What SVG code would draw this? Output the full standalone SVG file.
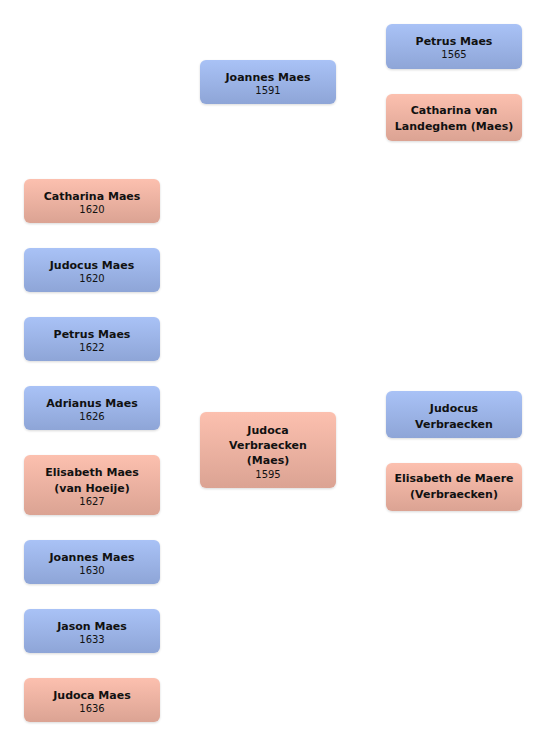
<svg xmlns="http://www.w3.org/2000/svg" width="546" height="747" viewBox="0 0 546 747">
<defs>
<linearGradient id="gBlue" x1="0" y1="0" x2="0" y2="1">
<stop offset="0" stop-color="#a9c2f6"/>
<stop offset="1" stop-color="#8ea5d7"/>
</linearGradient>
<linearGradient id="gPink" x1="0" y1="0" x2="0" y2="1">
<stop offset="0" stop-color="#fcc0af"/>
<stop offset="1" stop-color="#dba393"/>
</linearGradient>
<filter id="sh" x="-10%" y="-10%" width="120%" height="130%">
<feDropShadow dx="0" dy="1" stdDeviation="1" flood-color="#000" flood-opacity="0.15"/>
</filter>
</defs>
<style>
.b{fill:url(#gBlue);filter:url(#sh)}
.p{fill:url(#gPink);filter:url(#sh)}
.n{font-family:"DejaVu Sans","Liberation Sans",sans-serif;font-size:11px;font-weight:bold;fill:#111;text-anchor:middle}
.y{font-family:"DejaVu Sans","Liberation Sans",sans-serif;font-size:10px;fill:#111;text-anchor:middle}
</style>
<rect width="546" height="747" fill="#fff"/>
<g id="connectors"/>
<g id="petrus-maes-1565"><rect class="b" x="386" y="24" width="136" height="45" rx="6"/><text class="n" x="454" y="45">Petrus Maes</text><text class="y" x="454" y="58">1565</text></g>
<g id="catharina-van-landeghem"><rect class="p" x="386" y="94" width="136" height="47" rx="6"/><text class="n" x="454" y="114">Catharina van</text><text class="n" x="454" y="130">Landeghem (Maes)</text></g>
<g id="joannes-maes-1591"><rect class="b" x="200" y="60" width="136" height="44" rx="6"/><text class="n" x="268" y="81">Joannes Maes</text><text class="y" x="268" y="94">1591</text></g>
<g id="judoca-verbraecken"><rect class="p" x="200" y="412" width="136" height="76" rx="6"/><text class="n" x="268" y="434">Judoca</text><text class="n" x="268" y="449">Verbraecken</text><text class="n" x="268" y="464">(Maes)</text><text class="y" x="268" y="478">1595</text></g>
<g id="judocus-verbraecken"><rect class="b" x="386" y="391" width="136" height="47" rx="6"/><text class="n" x="454" y="411.5">Judocus</text><text class="n" x="454" y="427.5">Verbraecken</text></g>
<g id="elisabeth-de-maere"><rect class="p" x="386" y="463" width="136" height="48" rx="6"/><text class="n" x="454" y="482">Elisabeth de Maere</text><text class="n" x="454" y="497.5">(Verbraecken)</text></g>
<g id="catharina-maes"><rect class="p" x="24" y="179" width="136" height="44" rx="6"/><text class="n" x="92" y="200">Catharina Maes</text><text class="y" x="92" y="213">1620</text></g>
<g id="judocus-maes"><rect class="b" x="24" y="248" width="136" height="44" rx="6"/><text class="n" x="92" y="269">Judocus Maes</text><text class="y" x="92" y="282">1620</text></g>
<g id="petrus-maes-1622"><rect class="b" x="24" y="317" width="136" height="44" rx="6"/><text class="n" x="92" y="338">Petrus Maes</text><text class="y" x="92" y="351">1622</text></g>
<g id="adrianus-maes"><rect class="b" x="24" y="386" width="136" height="44" rx="6"/><text class="n" x="92" y="407">Adrianus Maes</text><text class="y" x="92" y="420">1626</text></g>
<g id="elisabeth-maes"><rect class="p" x="24" y="455" width="136" height="60" rx="6"/><text class="n" x="92" y="476">Elisabeth Maes</text><text class="n" x="92" y="491.5">(van Hoeije)</text><text class="y" x="92" y="505">1627</text></g>
<g id="joannes-maes-1630"><rect class="b" x="24" y="540" width="136" height="44" rx="6"/><text class="n" x="92" y="561">Joannes Maes</text><text class="y" x="92" y="574">1630</text></g>
<g id="jason-maes"><rect class="b" x="24" y="609" width="136" height="44" rx="6"/><text class="n" x="92" y="630">Jason Maes</text><text class="y" x="92" y="643">1633</text></g>
<g id="judoca-maes"><rect class="p" x="24" y="678" width="136" height="44" rx="6"/><text class="n" x="92" y="699">Judoca Maes</text><text class="y" x="92" y="712">1636</text></g>
</svg>
